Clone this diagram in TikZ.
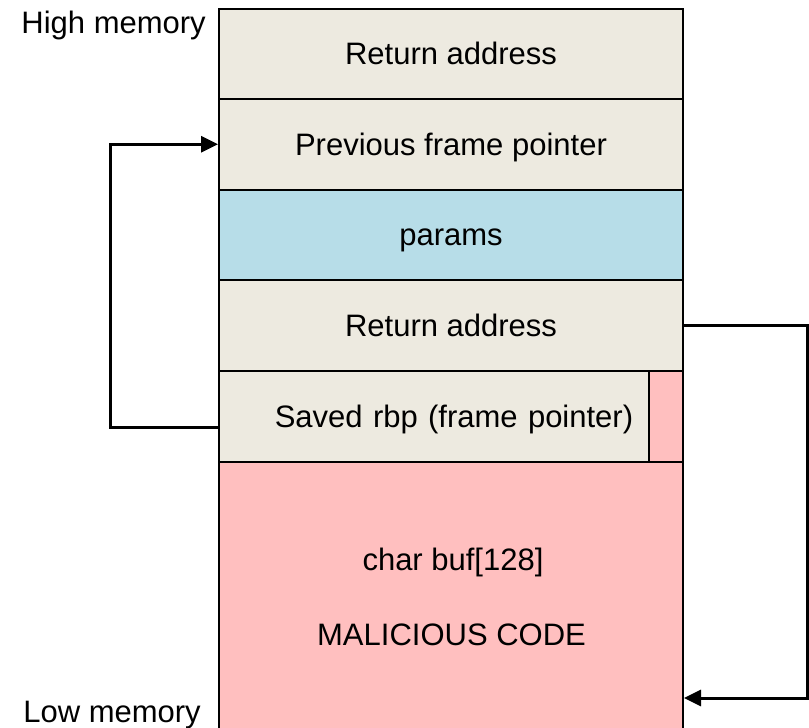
\documentclass[tikz,border=0pt]{standalone}
\usepackage{fontspec}
\setmainfont{Liberation Sans}
\usetikzlibrary{arrows.meta}
\definecolor{frame}{HTML}{EDEAE0}
\definecolor{param}{HTML}{B7DDE8}
\definecolor{overflow}{HTML}{FFBFBF}
\tikzset{
  cell/.style={draw=black, line width=2pt, minimum width=464pt, minimum height=90.5pt,
    inner sep=0pt, text height=21.5pt, text depth=0pt, font=\fontsize{31}{37}\selectfont},
  lbl/.style={inner sep=0pt, font=\fontsize{31}{37}\selectfont},
  conn/.style={line width=3pt, -{Triangle[length=17pt,width=16pt]}}
}
\begin{document}
\begin{tikzpicture}[x=1pt, y=-1pt]
\useasboundingbox (0,0) rectangle (809,728);
\clip (0,0) rectangle (809,728);
% stack rows, from high to low addresses
\node[cell, fill=frame] (r1) at (451,53.75) {Return address};
\node[cell, fill=frame] (r2) at (451,144.25) {Previous frame pointer};
\node[cell, fill=param] (r3) at (451,234.75) {params};
\node[cell, fill=frame] (r4) at (451,325.5) {Return address};
\node[cell, fill=frame, text width=464pt, align=center] (r5) at (451,416.25) {\hspace*{6pt}Saved rbp (frame pointer)};
\node[draw=black, line width=2pt, fill=overflow, minimum width=34pt, minimum height=90.5pt, inner sep=0pt] (ov) at (666,416.25) {};
\node[cell, fill=overflow, minimum height=308pt] (r6) at (451,615.5) {};
\node[lbl, anchor=base] (buf) at (453,570) {char buf[128]};
\node[lbl, anchor=base] (mal) at (451.5,645) {MALICIOUS CODE};
% memory direction labels
\node[lbl, anchor=base east] (hi) at (206,33) {High memory};
\node[lbl, anchor=base east] (lo) at (201,722) {Low memory};
% connectors
\coordinate (lc) at (110,427);
\coordinate (rc) at (807,698);
\draw[conn] (r5.west |- lc) -- (lc) |- (r2.west);
\draw[conn] (r4.east) -| (rc) -- (r6.east |- rc);
\end{tikzpicture}
\end{document}
